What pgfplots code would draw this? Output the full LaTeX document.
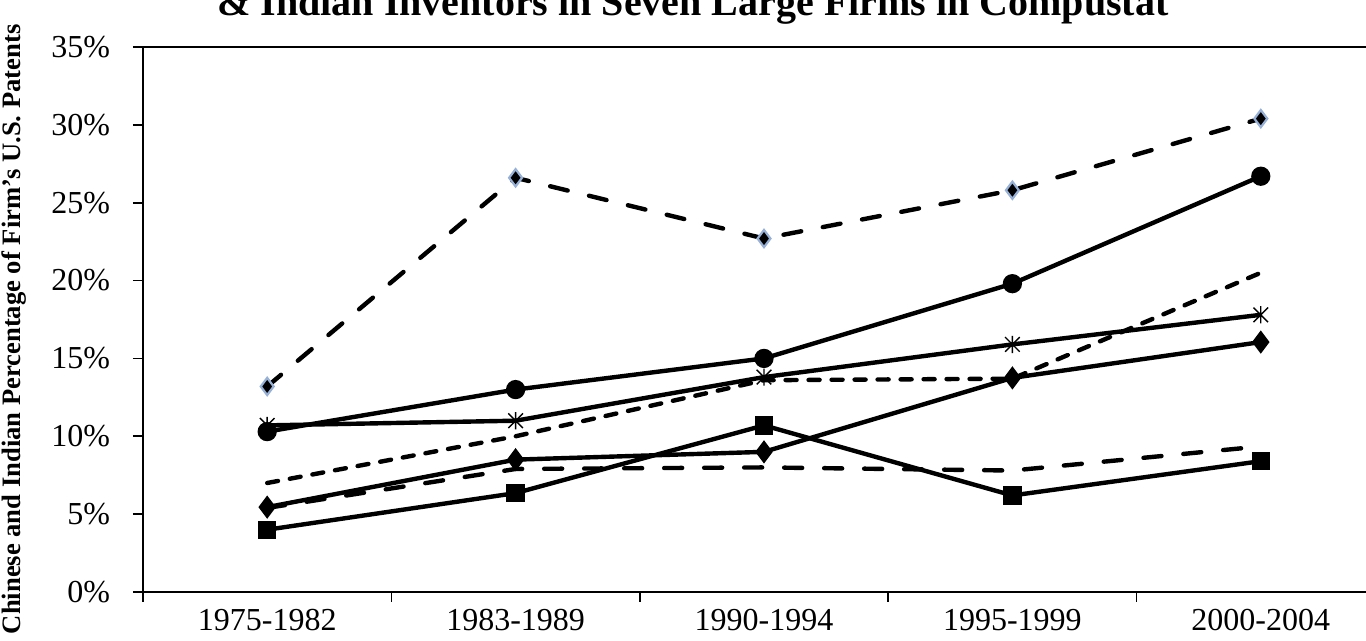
\documentclass[border=0pt]{standalone}
\usepackage{pgfplots}
\pgfplotsset{compat=1.18}
\usepackage{fontspec}
\setmainfont{Liberation Serif}
\definecolor{lb}{RGB}{150,176,214}
\pgfdeclareplotmark{xstar}{%
  \pgfpathmoveto{\pgfqpoint{-0.85\pgfplotmarksize}{-0.85\pgfplotmarksize}}%
  \pgfpathlineto{\pgfqpoint{0.85\pgfplotmarksize}{0.85\pgfplotmarksize}}%
  \pgfpathmoveto{\pgfqpoint{-0.85\pgfplotmarksize}{0.85\pgfplotmarksize}}%
  \pgfpathlineto{\pgfqpoint{0.85\pgfplotmarksize}{-0.85\pgfplotmarksize}}%
  \pgfpathmoveto{\pgfqpoint{0pt}{-\pgfplotmarksize}}%
  \pgfpathlineto{\pgfqpoint{0pt}{\pgfplotmarksize}}%
  \pgfusepathqstroke}
\begin{document}
\begin{tikzpicture}
\begin{axis}[
  scale only axis, width=621pt, height=272.5pt,
  xmin=-0.5, xmax=4.5, ymin=0, ymax=35,
  axis x line*=bottom, axis y line*=left,
  axis line style={line width=1pt, -},
  xtick={-0.5,0.5,1.5,2.5,3.5,4.5},
  x tick label as interval,
  xticklabels={1975-1982,1983-1989,1990-1994,1995-1999,2000-2004},
  ytick={0,5,...,35},
  yticklabels={0\%,5\%,10\%,15\%,20\%,25\%,30\%,35\%},
  tick align=outside, major tick length=5pt,
  tick style={line width=0.8pt, black},
  ticklabel style={font=\fontsize{16}{16}\selectfont},
  yticklabel style={xshift=-8pt},
  clip=false,
]
\coordinate (o) at (rel axis cs:0,0);
\coordinate (tl) at (rel axis cs:0,1);
\draw[line width=1pt] (rel axis cs:0,1) -- (rel axis cs:1,1);
\node[rotate=90, font=\bfseries\fontsize{13.3}{13.3}\selectfont] at (axis description cs:-0.104,0.482) {Chinese and Indian Percentage of Firm's U.S. Patents};
% dashed with blue-outlined diamonds
\addplot[black, line width=2.2pt, dash pattern=on 9pt off 11pt, line cap=round, mark=diamond*, mark size=4.3pt, mark options={solid, fill=black, draw=lb, line width=1.1pt}]
  coordinates {(0,13.2)(1,26.6)(2,22.7)(3,25.8)(4,30.4)};
% solid circles
\addplot[black, line width=2.2pt, mark=*, mark size=3.7pt, mark options={solid, fill=black}]
  coordinates {(0,10.3)(1,13.0)(2,15.0)(3,19.8)(4,26.7)};
% short dash
\addplot[black, line width=2.2pt, dash pattern=on 5.5pt off 6pt, line cap=round, mark=none]
  coordinates {(0,7.0)(1,10.0)(2,13.6)(3,13.7)(4,20.5)};
% asterisk
\addplot[black, line width=2.2pt, mark=xstar, mark size=4.3pt, mark options={solid, line width=0.7pt}]
  coordinates {(0,10.7)(1,11.0)(2,13.8)(3,15.9)(4,17.8)};
% solid diamonds
\addplot[black, line width=2.2pt, mark=diamond*, mark size=4pt, mark options={solid, fill=black}]
  coordinates {(0,5.45)(1,8.5)(2,9.0)(3,13.75)(4,16.05)};
% long dash
\addplot[black, line width=2.2pt, dash pattern=on 9pt off 11pt, line cap=round, mark=none]
  coordinates {(0,5.4)(1,7.9)(2,8.0)(3,7.8)(4,9.35)};
% squares
\addplot[black, line width=2.2pt, mark=square*, mark size=3.5pt, mark options={solid, fill=black}]
  coordinates {(0,4.0)(1,6.35)(2,10.7)(3,6.2)(4,8.4)};
\end{axis}
\node[font=\bfseries\fontsize{20}{20}\selectfont, anchor=base] at ([shift={(275pt,15.5pt)}]tl) {\& Indian Inventors in Seven Large Firms in Compustat};
\pgfresetboundingbox
\path[use as bounding box] ([shift={(-71.5pt,-24.5pt)}]o) rectangle ([shift={(611.5pt,23.5pt)}]tl);
\end{tikzpicture}
\end{document}
